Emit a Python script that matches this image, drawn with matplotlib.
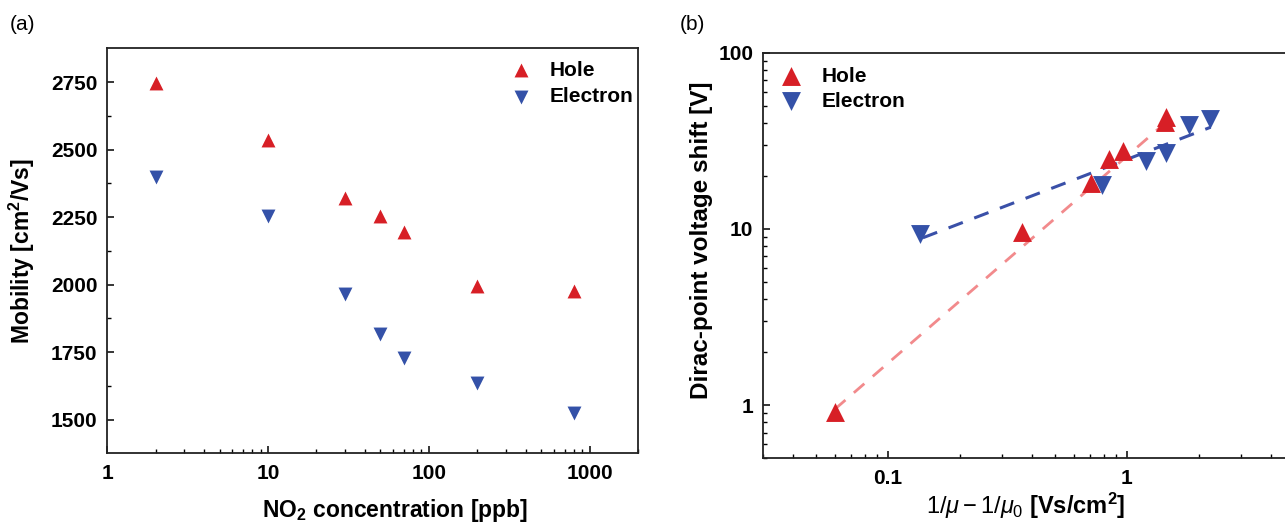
import matplotlib
matplotlib.use("Agg")
import matplotlib.pyplot as plt
from matplotlib.ticker import FixedLocator, NullFormatter, FuncFormatter, LogLocator

plt.rcParams['font.family'] = ['Liberation Sans', 'DejaVu Sans']
plt.rcParams['mathtext.fontset'] = 'custom'
plt.rcParams['mathtext.rm'] = 'Liberation Sans'
plt.rcParams['mathtext.it'] = 'Liberation Sans:italic'
plt.rcParams['mathtext.bf'] = 'Liberation Sans:bold'

# ---- Panel (a) data ----
no2_ppb = [2, 10, 30, 50, 70, 200, 800]
hole_mobility = [2745, 2535, 2320, 2255, 2195, 1995, 1975]
electron_mobility = [2400, 2255, 1965, 1815, 1728, 1635, 1525]
a_xticks = [1, 10, 100, 1000]
a_yticks = [1500, 1750, 2000, 2250, 2500, 2750]

# ---- Panel (b) data ----
hole_dmu = [0.060, 0.363, 0.71, 0.838, 0.96, 1.44, 1.46]
hole_dv = [0.91, 9.6, 18.3, 24.8, 27.8, 40.5, 43.0]
electron_dmu = [0.136, 0.785, 1.20, 1.46, 1.81, 2.23]
electron_dv = [9.3, 17.8, 24.1, 26.9, 39.0, 42.1]
hole_fit_x = [0.060, 1.45]
hole_fit_y = [0.95, 40.0]
electron_fit_x = [0.14, 2.24]
electron_fit_y = [8.9, 37.7]
b_xticks = [0.1, 1]
b_yticks = [1, 10, 100]

RED = '#d71f26'
BLUE = '#3451a8'
PINK = '#f28a8c'
LBLUE = '#3a50a8'

W, H = 1285, 523
fig = plt.figure(figsize=(W / 100, H / 100), dpi=100)

def fmt(v, pos):
    return ('%g' % v)

def px(x, y):
    return (x / W, 1 - y / H)

# Panel (a)
ax1 = fig.add_axes([107.3 / W, 1 - 453.3 / H, (638 - 107.3) / W, (453.3 - 48.3) / H])
ax1.set_xscale('log')
ax1.scatter(no2_ppb, hole_mobility, marker='^', s=100, color=RED, linewidths=0, label='Hole', zorder=3)
ax1.scatter(no2_ppb, electron_mobility, marker='v', s=100, color=BLUE, linewidths=0, label='Electron', zorder=3)
ax1.set_xlim(1, 2000)
ax1.set_ylim(1375, 2875)
ax1.xaxis.set_major_locator(FixedLocator(a_xticks))
ax1.xaxis.set_major_formatter(FuncFormatter(fmt))
ax1.xaxis.set_minor_locator(LogLocator(base=10, subs=range(2, 10)))
ax1.xaxis.set_minor_formatter(NullFormatter())
ax1.yaxis.set_major_locator(FixedLocator(a_yticks))
ax1.yaxis.set_minor_locator(FixedLocator([1625, 1875, 2125, 2375, 2625]))
ax1.set_xlabel(r'NO$_\mathbf{2}$ concentration [ppb]', fontsize=16.5, fontweight='bold', va='center')
ax1.xaxis.set_label_coords(*px(395, 510), transform=fig.transFigure)
ax1.set_ylabel(r'Mobility [cm$^\mathbf{2}$/Vs]', fontsize=16.5, fontweight='bold', va='center')
ax1.yaxis.set_label_coords(*px(22, 251), transform=fig.transFigure)
leg1 = ax1.legend(loc='upper right', bbox_to_anchor=(1 - 5 / 530.7, 1 - 12.5 / 405),
                  frameon=False, fontsize=15, handletextpad=0.35, borderpad=0,
                  borderaxespad=0, labelspacing=0.35, scatterpoints=1)
for t in leg1.get_texts():
    t.set_fontweight('bold')
fig.text(*px(10, 25), '(a)', fontsize=15, va='center', ha='left')

# Panel (b)
ax2 = fig.add_axes([763 / W, 1 - 458.3 / H, (1294 - 763) / W, (458.3 - 52.5) / H])
ax2.set_xscale('log')
ax2.set_yscale('log')
ax2.plot(hole_fit_x, hole_fit_y, color=PINK, lw=2, dashes=(5, 4), zorder=2)
ax2.plot(electron_fit_x, electron_fit_y, color=LBLUE, lw=2.2, dashes=(5, 4), zorder=2)
ax2.scatter(hole_dmu, hole_dv, marker='^', s=185, color=RED, linewidths=0, label='Hole', zorder=3)
ax2.scatter(electron_dmu, electron_dv, marker='v', s=185, color=BLUE, linewidths=0, label='Electron', zorder=3)
ax2.set_xlim(0.03, 5)
ax2.set_ylim(0.5, 100)
ax2.xaxis.set_major_locator(FixedLocator(b_xticks))
ax2.xaxis.set_major_formatter(FuncFormatter(fmt))
ax2.xaxis.set_minor_locator(LogLocator(base=10, subs=range(2, 10)))
ax2.xaxis.set_minor_formatter(NullFormatter())
ax2.yaxis.set_major_locator(FixedLocator(b_yticks))
ax2.yaxis.set_major_formatter(FuncFormatter(fmt))
ax2.yaxis.set_minor_locator(LogLocator(base=10, subs=range(2, 10)))
ax2.yaxis.set_minor_formatter(NullFormatter())
ax2.set_xlabel(r'$1/\mu - 1/\mu_0$ [Vs/cm$^\mathbf{2}$]', fontsize=17, fontweight='bold', va='center')
ax2.xaxis.set_label_coords(*px(1026, 506), transform=fig.transFigure)
ax2.set_ylabel('Dirac-point voltage shift [V]', fontsize=17.5, fontweight='bold', va='center')
ax2.yaxis.set_label_coords(*px(702, 240), transform=fig.transFigure)
leg2 = ax2.legend(loc='upper left', bbox_to_anchor=(7 / 531, 1 - 14 / 405.8),
                  frameon=False, fontsize=15, handletextpad=0.49, borderpad=0,
                  borderaxespad=0, labelspacing=0.31, scatterpoints=1)
for t in leg2.get_texts():
    t.set_fontweight('bold')
fig.text(*px(680, 25), '(b)', fontsize=15, va='center', ha='left')

for ax in (ax1, ax2):
    for sp in ax.spines.values():
        sp.set_linewidth(1.3)
        sp.set_color('#222222')
    ax.tick_params(which='both', direction='in', top=False, right=False)
    ax.tick_params(which='major', length=5, width=1.1, labelsize=15)
    ax.tick_params(which='minor', length=3, width=1.0)
    ax.tick_params(axis='y', pad=7)
    ax.tick_params(axis='x', pad=8)
    for lab in ax.get_xticklabels() + ax.get_yticklabels():
        lab.set_fontweight('bold')

fig.savefig('out.png', dpi=100)
